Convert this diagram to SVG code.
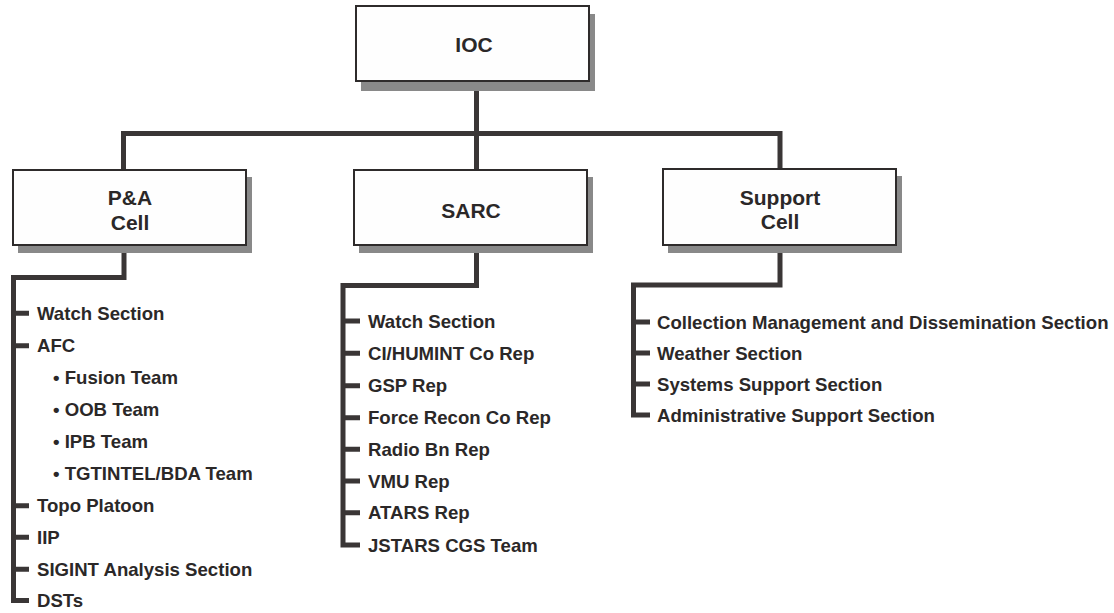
<svg xmlns="http://www.w3.org/2000/svg" width="1114" height="613" viewBox="0 0 1114 613">
<style>
.box{fill:#fefefe;stroke:#2e2b2b;stroke-width:2}
.shadow{fill:#898989}
.bt{font-family:"Liberation Sans",Arial,sans-serif;font-weight:bold;font-size:21px;fill:#2b2828;text-anchor:middle}
.it{font-family:"Liberation Sans",Arial,sans-serif;font-weight:bold;font-size:18.6px;fill:#2b2828}
.ln{fill:none;stroke:#3a3636;stroke-width:5;stroke-linejoin:miter;stroke-linecap:butt}
</style>
<rect width="1114" height="613" fill="#ffffff"/>
<g id="connectors">
<path class="ln" d="M476.5,82 V133.5 M123.5,169 V133.5 H780 V168 M476.5,133.5 V169"/>
<path class="ln" d="M124,246 V277.5 H13.5 V600.5 H29 M13.5,313.3 H29 M13.5,345.7 H29 M13.5,505.7 H29 M13.5,537.3 H29 M13.5,569.3 H29"/>
<path class="ln" d="M476.5,246 V285.5 H343 V545 H360 M343,321 H360 M343,353.3 H360 M343,385.7 H360 M343,417.7 H360 M343,449.3 H360 M343,481 H360 M343,512.7 H360"/>
<path class="ln" d="M780,246 V285 H633.5 V415 H650 M633.5,322 H650 M633.5,353 H650 M633.5,384 H650"/>
</g>
<g id="ioc">
<rect class="shadow" x="361" y="14" width="234" height="77"/>
<rect class="box" x="356" y="6" width="233" height="75"/>
<text class="bt" x="474" y="52">IOC</text>
</g>
<g id="pa-cell">
<rect class="shadow" x="18" y="177" width="234" height="76"/>
<rect class="box" x="13" y="170" width="233" height="75"/>
<text class="bt" x="130" y="205">P&amp;A</text>
<text class="bt" x="130" y="230">Cell</text>
</g>
<g id="sarc">
<rect class="shadow" x="359" y="177" width="234" height="76"/>
<rect class="box" x="354" y="170" width="233" height="75"/>
<text class="bt" x="471" y="217.5">SARC</text>
</g>
<g id="support-cell">
<rect class="shadow" x="668" y="176" width="234" height="77"/>
<rect class="box" x="663" y="169" width="233" height="76"/>
<text class="bt" x="780" y="205">Support</text>
<text class="bt" x="780" y="229">Cell</text>
</g>
<g id="pa-items">
<text class="it" x="37" y="320">Watch Section</text>
<text class="it" x="37" y="352">AFC</text>
<text class="it" x="53" y="384">• Fusion Team</text>
<text class="it" x="53" y="416">• OOB Team</text>
<text class="it" x="53" y="448">• IPB Team</text>
<text class="it" x="53" y="480">• TGTINTEL/BDA Team</text>
<text class="it" x="37" y="512">Topo Platoon</text>
<text class="it" x="37" y="544">IIP</text>
<text class="it" x="37" y="576">SIGINT Analysis Section</text>
<text class="it" x="37" y="607">DSTs</text>
</g>
<g id="sarc-items">
<text class="it" x="368" y="327.5">Watch Section</text>
<text class="it" x="368" y="360">CI/HUMINT Co Rep</text>
<text class="it" x="368" y="392">GSP Rep</text>
<text class="it" x="368" y="424">Force Recon Co Rep</text>
<text class="it" x="368" y="456">Radio Bn Rep</text>
<text class="it" x="368" y="487.5">VMU Rep</text>
<text class="it" x="368" y="519">ATARS Rep</text>
<text class="it" x="368" y="551.5">JSTARS CGS Team</text>
</g>
<g id="support-items">
<text class="it" x="657" y="328.5">Collection Management and Dissemination Section</text>
<text class="it" x="657" y="359.5">Weather Section</text>
<text class="it" x="657" y="390.5">Systems Support Section</text>
<text class="it" x="657" y="421.5">Administrative Support Section</text>
</g>
</svg>
